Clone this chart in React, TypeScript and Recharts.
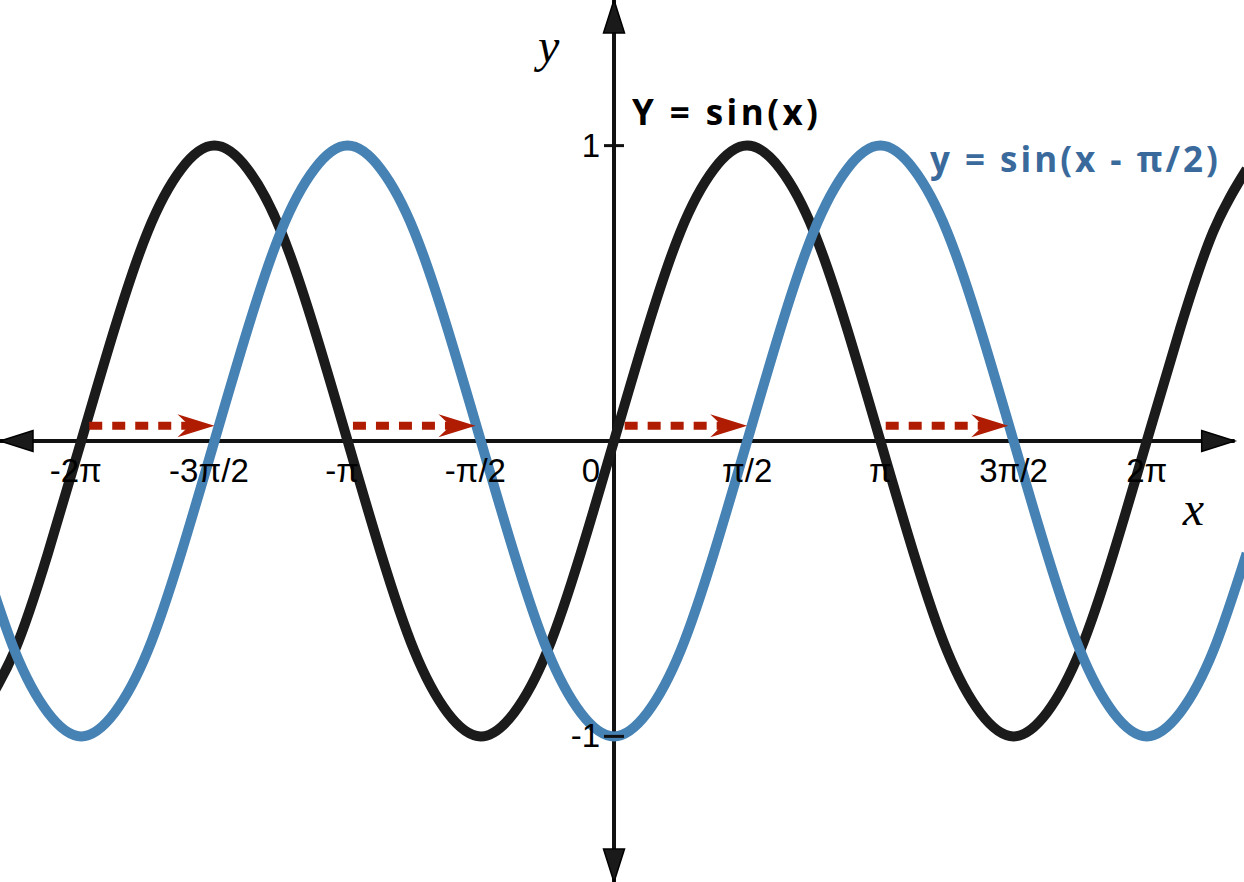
import React from "react";
import { LineChart, Line, XAxis, YAxis, ReferenceLine, ReferenceDot } from "recharts";

// x in units of π/2
const xValues = [
  -4.75, -4.5, -4.25, -4, -3.75, -3.5, -3.25, -3, -2.75, -2.5, -2.25, -2, -1.75, -1.5, -1.25, -1,
  -0.75, -0.5, -0.25, 0, 0.25, 0.5, 0.75, 1, 1.25, 1.5, 1.75, 2, 2.25, 2.5, 2.75, 3, 3.25, 3.5,
  3.75, 4, 4.25, 4.5, 4.75,
];
// y = sin(x)
const sinValues = [
  -0.92, -0.71, -0.38, 0, 0.38, 0.71, 0.92, 1, 0.92, 0.71, 0.38, 0, -0.38, -0.71, -0.92, -1,
  -0.92, -0.71, -0.38, 0, 0.38, 0.71, 0.92, 1, 0.92, 0.71, 0.38, 0, -0.38, -0.71, -0.92, -1,
  -0.92, -0.71, -0.38, 0, 0.38, 0.71, 0.92,
];
// y = sin(x - π/2)
const shiftedValues = [
  -0.38, -0.71, -0.92, -1, -0.92, -0.71, -0.38, 0, 0.38, 0.71, 0.92, 1, 0.92, 0.71, 0.38, 0,
  -0.38, -0.71, -0.92, -1, -0.92, -0.71, -0.38, 0, 0.38, 0.71, 0.92, 1, 0.92, 0.71, 0.38, 0,
  -0.38, -0.71, -0.92, -1, -0.92, -0.71, -0.38,
];

const xTickValues = [-4, -3, -2, -1, 0, 1, 2, 3, 4];
const xTickLabels = ["-2π", "-3π/2", "-π", "-π/2", "0", "π/2", "π", "3π/2", "2π"];
const yTickValues = [1, -1];
const yTickLabels = ["1", "-1"];

// shift arrows (red, dashed) along the x axis
const arrowStarts = [-3.94, -1.96, 0.08, 2.04];
const arrowEnds = [-3.0, -1.04, 1.0, 2.96];
const arrowLevel = 0.052;

const sinLabel = "Y = sin(x)";
const shiftedLabel = "y = sin(x - π/2)";

const data = xValues.map((x, i) => ({ x, sin: sinValues[i], shifted: shiftedValues[i] }));

const W = 1244;
const H = 882;
const X_MIN = -4.61;
const X_MAX = 4.73;
const Y_MIN = -1.493;
const Y_MAX = 1.493;
const X_AXIS_END = 4.66;

const BLACK = "#1b1b1b";
const BLUE = "#4682b4";
const RED = "#b01c02";
const LABEL_BLUE = "#3a6a9c";
const TICK_FONT = "'Liberation Sans', Arial, sans-serif";
const EQ_FONT = "'Open Sans', 'Noto Sans', sans-serif";
const SERIF = "'Liberation Serif', 'Times New Roman', serif";

const axisArrow = (dir: "left" | "right" | "up" | "down") => (p: any) => {
  const { cx, cy } = p;
  const L = 33;
  const h = 10.5;
  let pts = "";
  if (dir === "left") pts = `${cx},${cy} ${cx + L},${cy - h} ${cx + L},${cy + h}`;
  if (dir === "right") pts = `${cx},${cy} ${cx - L},${cy - h} ${cx - L},${cy + h}`;
  if (dir === "up") pts = `${cx},${cy} ${cx - h},${cy + L} ${cx + h},${cy + L}`;
  if (dir === "down") pts = `${cx},${cy} ${cx - h},${cy - L} ${cx + h},${cy - L}`;
  return <polygon points={pts} fill="#1a1a1a" stroke="#000" strokeWidth={1.5} />;
};

const shiftArrow = (p: any) => {
  const { x1, y1, x2 } = p;
  const headL = 37;
  const notch = 12;
  const h = 11.5;
  return (
    <g>
      <line
        x1={x1}
        y1={y1}
        x2={x2 - headL + notch + 2}
        y2={y1}
        stroke={RED}
        strokeWidth={8}
        strokeDasharray="13 10"
      />
      <polygon
        points={`${x2},${y1} ${x2 - headL},${y1 - h} ${x2 - headL + notch},${y1} ${x2 - headL},${y1 + h}`}
        fill={RED}
      />
    </g>
  );
};

const xTickShape = (label: string, value: number) => (p: any) => {
  const { cx, cy } = p;
  const neg = label.startsWith("-");
  return value === 0 ? (
    <text x={cx - 14} y={cy + 41} textAnchor="end" fontFamily={TICK_FONT} fontSize={33} fill="#000">
      {label}
    </text>
  ) : (
    <text x={cx} y={cy + 41} textAnchor="middle" fontFamily={TICK_FONT} fontSize={33} fill="#000">
      {label}
      {neg && <tspan fill="transparent">-</tspan>}
    </text>
  );
};

const yTickShape = (label: string) => (p: any) => {
  const { cx, cy } = p;
  return (
    <g>
      <line x1={cx - 10} y1={cy} x2={cx + 10} y2={cy} stroke="#111" strokeWidth={3} />
      <text x={cx - 14} y={cy + 11} textAnchor="end" fontFamily={TICK_FONT} fontSize={33} fill="#000">
        {label}
      </text>
    </g>
  );
};

const textShape =
  (txt: string, opts: { size: number; fill: string; family: string; italic?: boolean; weight?: number; len?: number }) =>
  (p: any) => (
    <text
      x={p.cx}
      y={p.cy}
      fontFamily={opts.family}
      fontSize={opts.size}
      fill={opts.fill}
      fontStyle={opts.italic ? "italic" : "normal"}
      fontWeight={opts.weight ?? 400}
      textLength={opts.len}
      lengthAdjust={opts.len ? "spacing" : undefined}
    >
      {txt}
    </text>
  );

export default function App() {
  return (
    <div style={{ position: "absolute", left: 0, top: 0, width: W, height: H, background: "#fff" }}>
      <LineChart width={W} height={H} data={data} margin={{ top: 0, right: 0, bottom: 0, left: 0 }}>
        <XAxis type="number" dataKey="x" domain={[X_MIN, X_MAX]} allowDataOverflow hide />
        <YAxis type="number" domain={[Y_MIN, Y_MAX]} allowDataOverflow hide />

        <ReferenceLine
          segment={[
            { x: X_MIN, y: 0 },
            { x: X_AXIS_END, y: 0 },
          ]}
          stroke="#111"
          strokeWidth={4}
        />
        <ReferenceLine x={0} stroke="#111" strokeWidth={4} />
        <ReferenceDot x={X_MIN} y={0} r={1} shape={axisArrow("left")} />
        <ReferenceDot x={X_AXIS_END} y={0} r={1} shape={axisArrow("right")} />
        <ReferenceDot x={0} y={Y_MAX} r={1} shape={axisArrow("up")} />
        <ReferenceDot x={0} y={Y_MIN} r={1} shape={axisArrow("down")} />

        {xTickValues.map((v, i) => (
          <ReferenceDot key={"xt" + i} x={v} y={0} r={1} shape={xTickShape(xTickLabels[i], v)} />
        ))}
        {yTickValues.map((v, i) => (
          <ReferenceDot key={"yt" + i} x={0} y={v} r={1} shape={yTickShape(yTickLabels[i])} />
        ))}

        <Line
          type="natural"
          dataKey="sin"
          stroke={BLACK}
          strokeWidth={10}
          dot={false}
          activeDot={false}
          isAnimationActive={false}
        />
        <Line
          type="natural"
          dataKey="shifted"
          stroke={BLUE}
          strokeWidth={10}
          dot={false}
          activeDot={false}
          isAnimationActive={false}
        />

        {arrowStarts.map((s, i) => (
          <ReferenceLine
            key={"ar" + i}
            segment={[
              { x: s, y: arrowLevel },
              { x: arrowEnds[i], y: arrowLevel },
            ]}
            stroke={RED}
            shape={shiftArrow}
          />
        ))}

        <ReferenceDot x={0.135} y={1.071} r={1} shape={textShape(sinLabel, { size: 35, fill: "#000", family: EQ_FONT, weight: 700, len: 186 })} />
        <ReferenceDot x={2.372} y={0.912} r={1} shape={textShape(shiftedLabel, { size: 35, fill: LABEL_BLUE, family: EQ_FONT, weight: 700, len: 288 })} />
        <ReferenceDot x={-0.57} y={1.284} r={1} shape={textShape("y", { size: 48, fill: "#000", family: SERIF, italic: true })} />
        <ReferenceDot x={4.27} y={-0.286} r={1} shape={textShape("x", { size: 48, fill: "#000", family: SERIF, italic: true })} />
      </LineChart>
    </div>
  );
}
